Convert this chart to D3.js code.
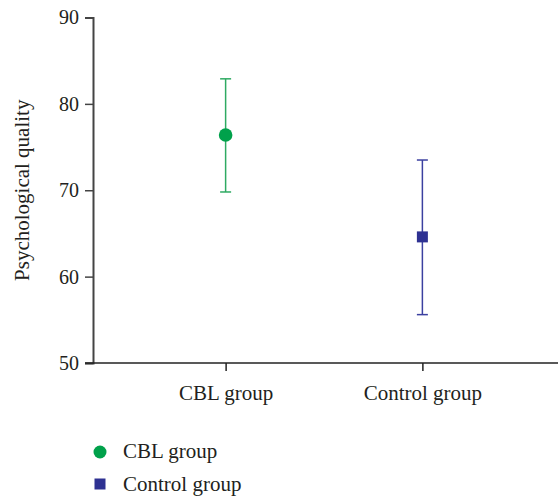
<!DOCTYPE html>
<html lang="en">
<head>
  <meta charset="UTF-8">
  <title>Psychological quality</title>
  <script src="https://d3js.org/d3.v7.min.js"></script>
  <style>
    body {
      margin: 0;
      padding: 0;
      background: #fff;
    }
    svg text {
      font-family: 'Liberation Serif', 'Times New Roman', serif;
      fill: #231f20;
    }
  </style>
</head>
<body>
  <div id="chart"></div>
  <script>
    // values
    const groups = ["CBL group", "Control group"];
    const means = [76.4, 64.6];
    const upper = [82.9, 73.5];
    const lower = [69.8, 55.6];
    const yTicks = [50, 60, 70, 80, 90];
    const colors = ["#00a14b", "#2e3192"];
    const barColors = ["#2eaa62", "#3b40a0"];

    const width = 558, height = 496;
    const margin = { top: 17.5, left: 93, right: 3, bottom: 133 };
    const serif = "'Liberation Serif', 'Times New Roman', serif";

    const svg = d3.select("#chart").append("svg")
      .attr("width", width)
      .attr("height", height);

    const x = d3.scalePoint()
      .domain(groups)
      .range([margin.left, width - margin.right])
      .padding(0.674);

    const y = d3.scaleLinear()
      .domain([50, 90])
      .range([height - margin.bottom, margin.top]);

    // y axis
    const yAxis = svg.append("g")
      .attr("transform", "translate(" + margin.left + ",0)")
      .call(d3.axisLeft(y).tickValues(yTicks).tickSize(8).tickPadding(6));
    yAxis.attr("font-family", null).style("font-family", serif);
    yAxis.select(".domain").attr("stroke", "#444").attr("stroke-width", 2);
    yAxis.selectAll(".tick line").attr("stroke", "#444").attr("stroke-width", 1.5);
    yAxis.selectAll(".tick text")
      .style("font-family", serif)
      .style("font-size", "20px")
      .style("fill", "#231f20");

    // x axis
    const xAxis = svg.append("g")
      .attr("transform", "translate(0," + y(50) + ")")
      .call(d3.axisBottom(x).tickSizeInner(8).tickSizeOuter(0).tickPadding(14));
    xAxis.attr("font-family", null).style("font-family", serif);
    xAxis.select(".domain").attr("stroke", "#222").attr("stroke-width", 1.5)
      .attr("d", "M" + (margin.left - 8) + ",0H" + width);
    xAxis.selectAll(".tick line").attr("stroke", "#222").attr("stroke-width", 1.5);
    xAxis.selectAll(".tick text")
      .style("font-family", serif)
      .style("font-size", "21px")
      .style("fill", "#231f20");

    // y label
    svg.append("text")
      .attr("transform", "translate(29," + ((y(50) + y(90)) / 2) + ") rotate(-90)")
      .attr("text-anchor", "middle")
      .style("font-size", "21px")
      .text("Psychological quality");

    // error bars
    const capW = 5.5;
    const bars = svg.append("g").selectAll("g")
      .data(groups)
      .enter().append("g")
      .attr("stroke", (d, i) => barColors[i])
      .attr("stroke-width", 1.5);
    bars.append("line")
      .attr("x1", d => x(d)).attr("x2", d => x(d))
      .attr("y1", (d, i) => y(upper[i])).attr("y2", (d, i) => y(lower[i]));
    bars.append("line")
      .attr("x1", d => x(d) - capW).attr("x2", d => x(d) + capW)
      .attr("y1", (d, i) => y(upper[i])).attr("y2", (d, i) => y(upper[i]));
    bars.append("line")
      .attr("x1", d => x(d) - capW).attr("x2", d => x(d) + capW)
      .attr("y1", (d, i) => y(lower[i])).attr("y2", (d, i) => y(lower[i]));

    // means
    svg.append("circle")
      .attr("cx", x(groups[0]))
      .attr("cy", y(means[0]))
      .attr("r", 6.8)
      .attr("fill", colors[0]);
    svg.append("rect")
      .attr("x", x(groups[1]) - 5.5)
      .attr("y", y(means[1]) - 5.5)
      .attr("width", 11)
      .attr("height", 11)
      .attr("fill", colors[1]);

    // legend
    const legend = svg.append("g").attr("transform", "translate(100,452)");
    legend.append("circle").attr("cx", 0).attr("cy", 0).attr("r", 6.5).attr("fill", colors[0]);
    legend.append("rect").attr("x", -5.5).attr("y", 26.5).attr("width", 11).attr("height", 11).attr("fill", colors[1]);
    legend.selectAll("text")
      .data(groups)
      .enter().append("text")
      .attr("x", 23)
      .attr("y", (d, i) => 6 + i * 33)
      .style("font-size", "21px")
      .text(d => d);
  </script>
</body>
</html>
